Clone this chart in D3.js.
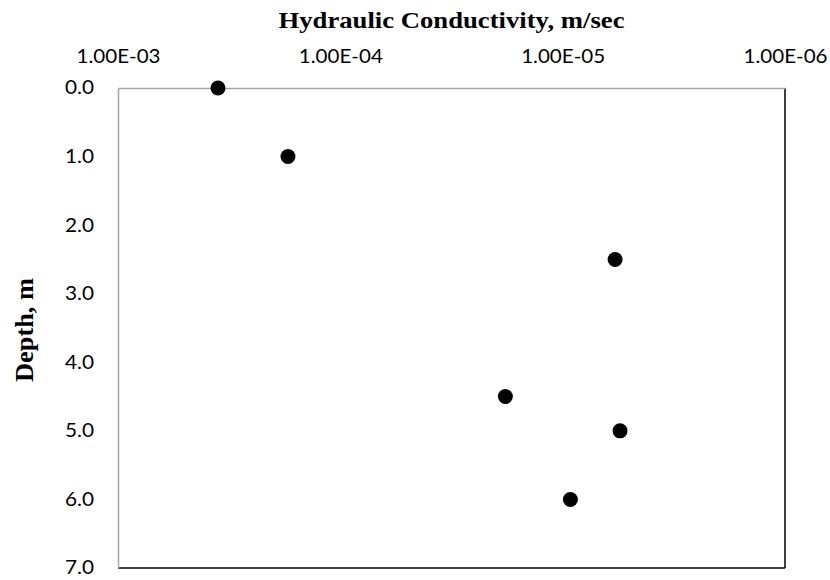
<!DOCTYPE html>
<html><head><meta charset="utf-8">
<script src="https://cdn.jsdelivr.net/npm/d3@7"></script>
<style>body{margin:0;background:#fff}svg{display:block}</style>
</head><body>
<svg id="chart" width="830" height="580"></svg>
<script>
const conductivity = [3.55e-4, 1.72e-4, 5.81e-6, 1.81e-5, 5.52e-6, 9.23e-6];
const depth = [0.0, 1.0, 2.5, 4.5, 5.0, 6.0];
const xTickValues = [1e-3, 1e-4, 1e-5, 1e-6];
const xTickLabels = ["1.00E-03", "1.00E-04", "1.00E-05", "1.00E-06"];
const yTickValues = [0, 1, 2, 3, 4, 5, 6, 7];

const svg = d3.select("#chart");
const L = 118, R = 785, T = 88, B = 568;
const x = d3.scaleLog().domain([1e-3, 1e-6]).range([L, R]);
const y = d3.scaleLinear().domain([0, 7]).range([T, B]);

svg.append("line").attr("x1", R).attr("x2", R).attr("y1", T).attr("y2", B).attr("stroke", "#000").attr("stroke-width", 1.5);
svg.append("line").attr("x1", L).attr("x2", R).attr("y1", B).attr("y2", B).attr("stroke", "#000").attr("stroke-width", 1.5);

const xAxis = d3.axisTop(x).tickValues(xTickValues).tickFormat((d, i) => xTickLabels[i]).tickSize(0).tickPadding(25);
const gx = svg.append("g").attr("transform", `translate(0,${T})`).call(xAxis);
gx.select(".domain").attr("stroke", "#a6a6a6").attr("stroke-width", 1.5);
gx.selectAll("text").attr("font-family", "Lato").attr("font-size", 18.5).attr("fill", "#000")
  .attr("textLength", 84).attr("lengthAdjust", "spacingAndGlyphs");

const yAxis = d3.axisLeft(y).tickValues(yTickValues).tickFormat(d3.format(".1f")).tickSize(0).tickPadding(24);
const gy = svg.append("g").attr("transform", `translate(${L},0)`).call(yAxis);
gy.select(".domain").attr("stroke", "#a6a6a6").attr("stroke-width", 1.5);
gy.selectAll("text").attr("font-family", "Lato").attr("font-size", 18.5).attr("fill", "#000")
  .attr("textLength", 29).attr("lengthAdjust", "spacingAndGlyphs");

svg.append("text").attr("x", (L + R) / 2).attr("y", 28).attr("text-anchor", "middle")
  .attr("font-family", "Liberation Serif").attr("font-weight", "bold").attr("font-size", 23.5)
  .attr("textLength", 346).attr("lengthAdjust", "spacingAndGlyphs")
  .text("Hydraulic Conductivity, m/sec");

svg.append("text").attr("transform", `translate(33,${(T + B) / 2 + 2}) rotate(-90)`).attr("text-anchor", "middle")
  .attr("font-family", "Liberation Serif").attr("font-weight", "bold").attr("font-size", 26)
  .attr("textLength", 104).attr("lengthAdjust", "spacingAndGlyphs")
  .text("Depth, m");

svg.append("g").selectAll("circle").data(depth).join("circle")
  .attr("cx", (d, i) => x(conductivity[i])).attr("cy", d => y(d)).attr("r", 7.5).attr("fill", "#000");
</script>
</body></html>
